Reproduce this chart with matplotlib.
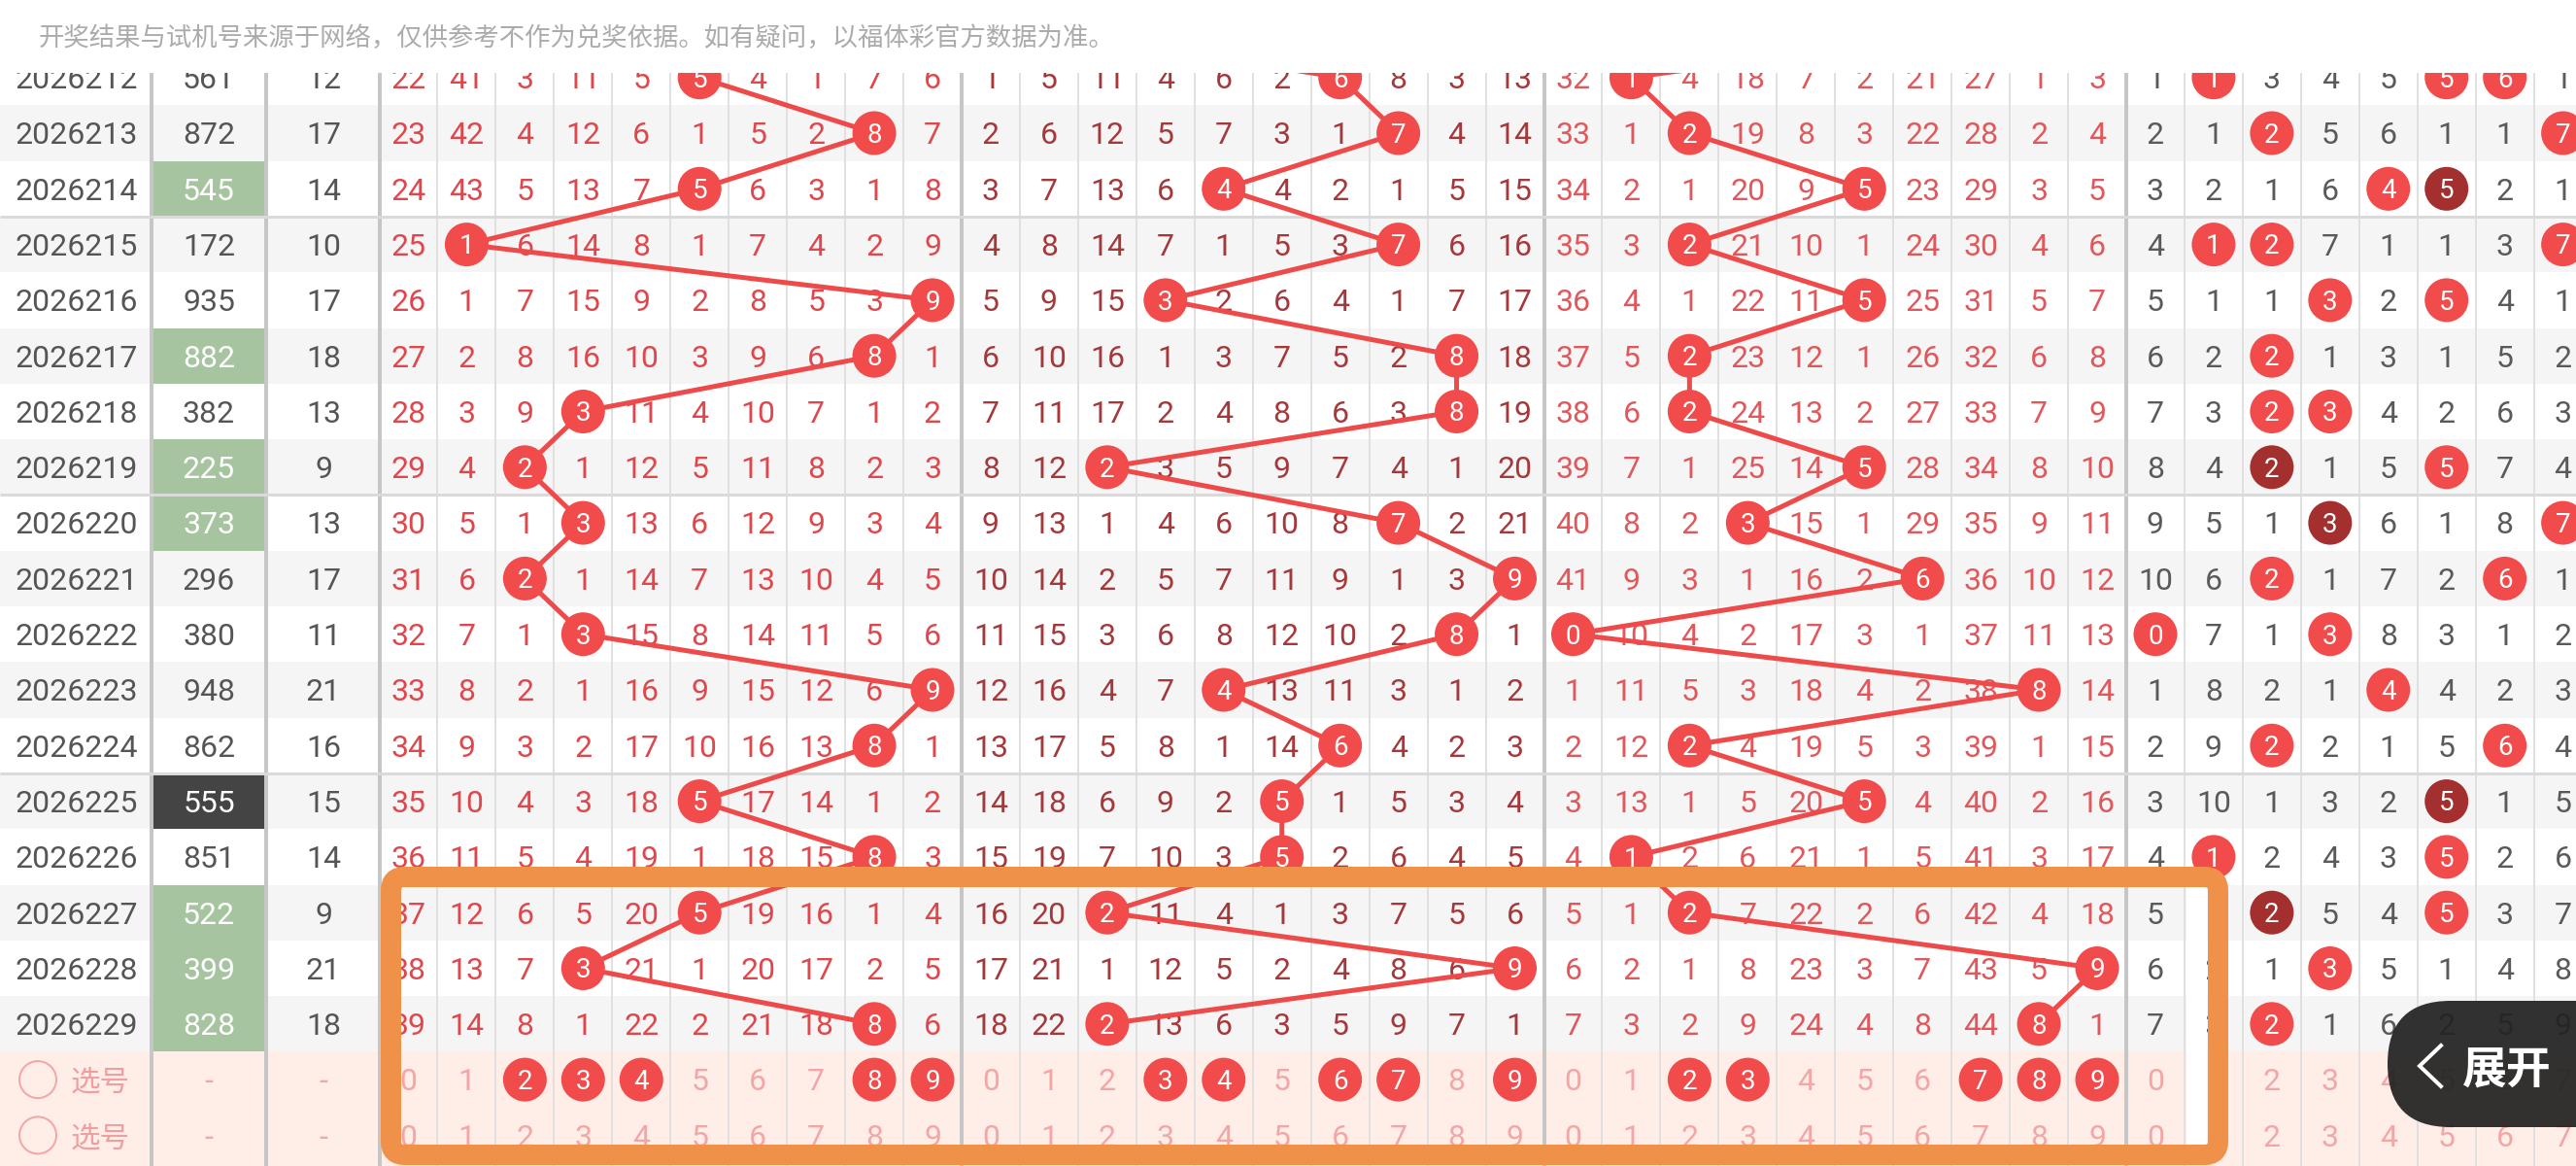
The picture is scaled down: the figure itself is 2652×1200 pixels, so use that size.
import matplotlib
matplotlib.use('Agg')
import matplotlib.pyplot as plt
from matplotlib.patches import Rectangle, Circle, FancyBboxPatch

plt.rcParams['font.family'] = ['Roboto', 'Noto Sans CJK SC', 'DejaVu Sans']

# ---- data ----
notice = '开奖结果与试机号来源于网络，仅供参考不作为兑奖依据。如有疑问，以福体彩官方数据为准。'
periods = ['2026212', '2026213', '2026214', '2026215', '2026216', '2026217',
           '2026218', '2026219', '2026220', '2026221', '2026222', '2026223',
           '2026224', '2026225', '2026226', '2026227', '2026228', '2026229']
numbers = ['561', '872', '545', '172', '935', '882', '382', '225', '373',
           '296', '380', '948', '862', '555', '851', '522', '399', '828']
sums = [12, 17, 14, 10, 17, 18, 13, 9, 13, 17, 11, 21, 16, 15, 14, 9, 21, 18]
# 6 = 组六, 3 = 组三, b = 豹子
groups = ['6', '6', '3', '6', '6', '3', '6', '3', '3', '6', '6', '6', '6', 'b', '6', '3', '3', '3']
prev_number = '708'  # draw above the visible area (only its trend lines show)

# omission tables, 0 = digit drawn in that period
bai = [
    [22, 41, 3, 11, 5, 0, 4, 1, 7, 6],
    [23, 42, 4, 12, 6, 1, 5, 2, 0, 7],
    [24, 43, 5, 13, 7, 0, 6, 3, 1, 8],
    [25, 0, 6, 14, 8, 1, 7, 4, 2, 9],
    [26, 1, 7, 15, 9, 2, 8, 5, 3, 0],
    [27, 2, 8, 16, 10, 3, 9, 6, 0, 1],
    [28, 3, 9, 0, 11, 4, 10, 7, 1, 2],
    [29, 4, 0, 1, 12, 5, 11, 8, 2, 3],
    [30, 5, 1, 0, 13, 6, 12, 9, 3, 4],
    [31, 6, 0, 1, 14, 7, 13, 10, 4, 5],
    [32, 7, 1, 0, 15, 8, 14, 11, 5, 6],
    [33, 8, 2, 1, 16, 9, 15, 12, 6, 0],
    [34, 9, 3, 2, 17, 10, 16, 13, 0, 1],
    [35, 10, 4, 3, 18, 0, 17, 14, 1, 2],
    [36, 11, 5, 4, 19, 1, 18, 15, 0, 3],
    [37, 12, 6, 5, 20, 0, 19, 16, 1, 4],
    [38, 13, 7, 0, 21, 1, 20, 17, 2, 5],
    [39, 14, 8, 1, 22, 2, 21, 18, 0, 6],
]
shi = [
    [1, 5, 11, 4, 6, 2, 0, 8, 3, 13],
    [2, 6, 12, 5, 7, 3, 1, 0, 4, 14],
    [3, 7, 13, 6, 0, 4, 2, 1, 5, 15],
    [4, 8, 14, 7, 1, 5, 3, 0, 6, 16],
    [5, 9, 15, 0, 2, 6, 4, 1, 7, 17],
    [6, 10, 16, 1, 3, 7, 5, 2, 0, 18],
    [7, 11, 17, 2, 4, 8, 6, 3, 0, 19],
    [8, 12, 0, 3, 5, 9, 7, 4, 1, 20],
    [9, 13, 1, 4, 6, 10, 8, 0, 2, 21],
    [10, 14, 2, 5, 7, 11, 9, 1, 3, 0],
    [11, 15, 3, 6, 8, 12, 10, 2, 0, 1],
    [12, 16, 4, 7, 0, 13, 11, 3, 1, 2],
    [13, 17, 5, 8, 1, 14, 0, 4, 2, 3],
    [14, 18, 6, 9, 2, 0, 1, 5, 3, 4],
    [15, 19, 7, 10, 3, 0, 2, 6, 4, 5],
    [16, 20, 0, 11, 4, 1, 3, 7, 5, 6],
    [17, 21, 1, 12, 5, 2, 4, 8, 6, 0],
    [18, 22, 0, 13, 6, 3, 5, 9, 7, 1],
]
ge = [
    [32, 0, 4, 18, 7, 2, 21, 27, 1, 3],
    [33, 1, 0, 19, 8, 3, 22, 28, 2, 4],
    [34, 2, 1, 20, 9, 0, 23, 29, 3, 5],
    [35, 3, 0, 21, 10, 1, 24, 30, 4, 6],
    [36, 4, 1, 22, 11, 0, 25, 31, 5, 7],
    [37, 5, 0, 23, 12, 1, 26, 32, 6, 8],
    [38, 6, 0, 24, 13, 2, 27, 33, 7, 9],
    [39, 7, 1, 25, 14, 0, 28, 34, 8, 10],
    [40, 8, 2, 0, 15, 1, 29, 35, 9, 11],
    [41, 9, 3, 1, 16, 2, 0, 36, 10, 12],
    [0, 10, 4, 2, 17, 3, 1, 37, 11, 13],
    [1, 11, 5, 3, 18, 4, 2, 38, 0, 14],
    [2, 12, 0, 4, 19, 5, 3, 39, 1, 15],
    [3, 13, 1, 5, 20, 0, 4, 40, 2, 16],
    [4, 0, 2, 6, 21, 1, 5, 41, 3, 17],
    [5, 1, 0, 7, 22, 2, 6, 42, 4, 18],
    [6, 2, 1, 8, 23, 3, 7, 43, 5, 0],
    [7, 3, 2, 9, 24, 4, 8, 44, 0, 1],
]
# number distribution, digits 0-7 visible
dist = [
    [1, 0, 3, 4, 5, 0, 0, 1],
    [2, 1, 0, 5, 6, 1, 1, 0],
    [3, 2, 1, 6, 0, 0, 2, 1],
    [4, 0, 0, 7, 1, 1, 3, 0],
    [5, 1, 1, 0, 2, 0, 4, 1],
    [6, 2, 0, 1, 3, 1, 5, 2],
    [7, 3, 0, 0, 4, 2, 6, 3],
    [8, 4, 0, 1, 5, 0, 7, 4],
    [9, 5, 1, 0, 6, 1, 8, 0],
    [10, 6, 0, 1, 7, 2, 0, 1],
    [0, 7, 1, 0, 8, 3, 1, 2],
    [1, 8, 2, 1, 0, 4, 2, 3],
    [2, 9, 0, 2, 1, 5, 0, 4],
    [3, 10, 1, 3, 2, 0, 1, 5],
    [4, 0, 2, 4, 3, 0, 2, 6],
    [5, 1, 0, 5, 4, 0, 3, 7],
    [6, 2, 1, 0, 5, 1, 4, 8],
    [7, 3, 0, 1, 6, 2, 5, 9],
]
pick_bai = [2, 3, 4, 8, 9]
pick_shi = [3, 4, 6, 7, 9]
pick_ge = [2, 3, 7, 8, 9]

# ---- layout (pixels) ----
W, H = 2652, 1200
PX = 72 / 100
RH = 57.3
def yc(i):
    return 79.7 + RH * i
X0, CW = 390.5, 59.95
def xc(col):
    return X0 + CW * col + CW / 2

RED = '#F24B4B'
DARK = '#A32F2F'
LINE = '#EE4A4A'
PINK = '#F3A6A6'

fig = plt.figure(figsize=(W / 100, H / 100), dpi=100)
ax = fig.add_axes([0, 0, 1, 1])
ax.set_xlim(0, W)
ax.set_ylim(H, 0)
ax.axis('off')


def put(x, y, s, size=23, color='#555555', z=2, **kw):
    # centre digits on y via baseline (digit height ~0.711 em)
    ax.text(x, y + 0.711 * size / PX / 2, s, ha='center', va='baseline',
            fontsize=size, color=color, zorder=z, **kw)


def ball(x, y, d, fc=RED):
    ax.add_patch(Circle((x, y), 22.5, fc=fc, ec='none', zorder=4))
    put(x, y, str(d), size=20, color='white', z=5)


# row backgrounds
for i in range(len(periods)):
    ax.add_patch(Rectangle((0, yc(i) - RH / 2), W, RH,
                           fc='#FFFFFF' if i % 2 == 0 else '#F5F5F5', ec='none', zorder=0))
    if groups[i] != '6':
        ax.add_patch(Rectangle((158, yc(i) - RH / 2), 114, RH,
                               fc='#A7C4A0' if groups[i] == '3' else '#444444',
                               ec='none', zorder=0.5))
ax.add_patch(Rectangle((0, yc(18) - RH / 2), W, 2 * RH + 20, fc='#FFEEE8', ec='none', zorder=0))

# grid lines
thin = [X0 + CW * j for j in range(1, 40) if j % 10]
ax.vlines(thin, 75, H, color='#E0E0E0', lw=2 * PX, zorder=1)
ax.vlines([156, 274] + [X0 + CW * 10 * s for s in range(4)], 75, H,
          color='#C6C6C6', lw=4 * PX, zorder=1)
ax.hlines([yc(i) + RH / 2 for i in (2, 7, 12)], 0, W, color='#DADADA', lw=3 * PX, zorder=1)

# left columns
for i, p in enumerate(periods):
    put(79, yc(i), p)
    put(215, yc(i), numbers[i], color='#555555' if groups[i] == '6' else 'white')
    put(333, yc(i), str(sums[i]))

# position sections with trend lines
sections = [(bai, '#DF474C'), (shi, '#A4383B'), (ge, '#E0585B')]
for s, (table, col) in enumerate(sections):
    for i, row in enumerate(table):
        for d, v in enumerate(row):
            x = xc(10 * s + d)
            if v == 0:
                ball(x, yc(i), d)
            else:
                put(x, yc(i), str(v), color=col)
    digits = [int(prev_number[s])] + [int(n[s]) for n in numbers]
    xs = [xc(10 * s + d) for d in digits]
    ys = [yc(i) for i in range(-1, len(numbers))]
    ax.plot(xs, ys, color=LINE, lw=5 * PX, zorder=3, solid_capstyle='round')

# number distribution section
for i, row in enumerate(dist):
    for d, v in enumerate(row):
        x = xc(30 + d)
        if v == 0:
            ball(x, yc(i), d, fc=DARK if numbers[i].count(str(d)) > 1 else RED)
        else:
            put(x, yc(i), str(v), color='#5A5A5A')

# pick rows
picks = [pick_bai, pick_shi, pick_ge, []]
for r in range(2):
    y = yc(18 + r)
    ax.add_patch(Circle((39, y), 19, fill=False, ec=PINK, lw=2 * PX, zorder=2))
    ax.text(73, y + 0.38 * 22 / PX, '选号', ha='left', va='baseline', fontsize=22,
            color='#F09E9E', zorder=2)
    put(215, y, '-', color=PINK)
    put(333, y, '-', color=PINK)
    for s in range(4):
        for d in range(10 if s < 3 else 8):
            x = xc(10 * s + d)
            if r == 0 and d in picks[s]:
                ball(x, y, d)
            else:
                put(x, y, str(d), color=PINK)

# annotation box
ax.add_patch(Rectangle((2251, 913), 21, 266, fc='white', ec='none', zorder=6))
ax.add_patch(FancyBboxPatch((402.5, 902.5), 1881, 286, boxstyle='round,pad=0,rounding_size=14',
                            fill=False, ec='#F0914A', lw=21 * PX, zorder=7))

# expand button
ax.add_patch(FancyBboxPatch((2458, 1030), 300, 130, boxstyle='round,pad=0,rounding_size=65',
                            fc='#222222', ec='none', alpha=0.93, zorder=8))
ax.plot([2513, 2491, 2513], [1076, 1097, 1118], color='white', lw=4 * PX, zorder=9,
        solid_joinstyle='miter')
ax.text(2581, 1097 + 0.38 * 33 / PX, '展开', ha='center', va='baseline', fontsize=33,
        fontweight='bold', color='white', zorder=9)

# header
ax.add_patch(Rectangle((0, 0), W, 75, fc='white', ec='none', zorder=10))
ax.text(40, 37 + 0.38 * 19 / PX, notice, ha='left', va='baseline', fontsize=19,
        color='#ABABAB', zorder=11)

fig.savefig('out.png', dpi=100)
